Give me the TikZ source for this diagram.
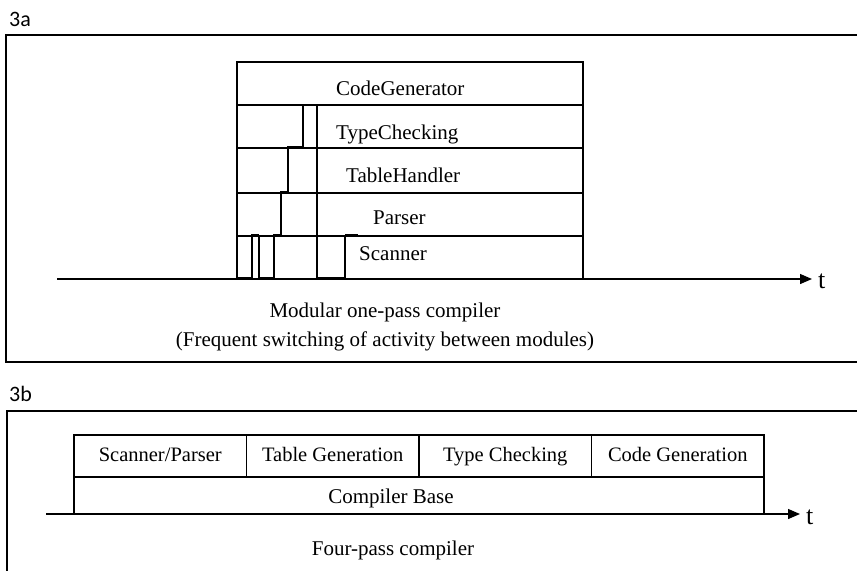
\documentclass[tikz,border=0pt]{standalone}
\usepackage{fontspec}
\setmainfont{Liberation Serif}
\newfontfamily\figfont{Carlito}
\usetikzlibrary{arrows.meta}
\usetikzlibrary{positioning}

\begin{document}
\begin{tikzpicture}[x=1pt,y=-1pt,
    quadro/.style={line width=1.3pt},
    linha/.style={line width=1.2pt},
    traco/.style={line width=3pt},
    eixo/.style={line width=1.3pt,-{Triangle[length=12pt,width=10pt]}},
    rotulo/.style={font=\fontsize{21}{25}\selectfont, inner sep=0pt},
    tempo/.style={font=\fontsize{26}{30}\selectfont, inner sep=0pt, anchor=base west},
    figlbl/.style={font=\figfont\fontsize{22}{26}\selectfont, inner sep=0pt, anchor=base west},
    passo/.style={draw, line width=1.2pt, minimum width=172.5pt, minimum height=42pt,
      inner sep=0pt, outer sep=0pt, text height=14pt, text depth=4pt,
      font=\fontsize{20.5}{24}\selectfont}]

  \useasboundingbox (0,0) rectangle (857,571);

  % Figura 3a
  \node[figlbl] (f3a) at (9,26) {3a};
  \draw[quadro] (857,35) -- (6,35) -- (6,362) -- (857,362);

  % Eixo do tempo
  \coordinate (ini3a) at (57,279);
  \coordinate (fim3a) at (812,279);
  \draw[eixo] (ini3a) -- (fim3a);
  \node[tempo] (t3a) at (818,288) {t};

  % Modulos
  \draw[linha] (237,62) rectangle (583,279);
  \foreach \y in {148,193,236}
    \draw[linha] (237,\y) -- (583,\y);
  \draw[linha] (237,105) -- (583,105);
  \draw[line width=2.4pt] (275,105) -- (583,105);
  \draw[linha] (317,105) -- (317,279);

  \node[rotulo, anchor=base west] (cg) at (336,95) {CodeGenerator};
  \node[rotulo, anchor=base west] (tc) at (336,139) {TypeChecking};
  \node[rotulo, anchor=base west] (th) at (346,182) {TableHandler};
  \node[rotulo, anchor=base west] (pa) at (373,224) {Parser};
  \node[rotulo, anchor=base west] (sc) at (359,260) {Scanner};

  % Atividade entre modulos
  \draw[linha] (252,279) -- (252,236) (259,236) -- (259,279)
    (274,279) -- (274,236) (281,236) -- (281,193)
    (288,193) -- (288,148) (303,148) -- (303,105)
    (345,279) -- (345,236);
  \foreach \xa/\xb/\y in {238/252/278, 251/259/235, 259/274/278, 273/281/235,
      280/288/192, 287/303/147, 317/345/278, 345/358/235}
    \draw[traco] (\xa,\y) -- (\xb,\y);

  \node[rotulo, anchor=base] (leg1) at (385,317) {Modular one-pass compiler};
  \node[rotulo, anchor=base] (leg2) at (385,346) {(Frequent switching of activity between modules)};

  % Figura 3b
  \node[figlbl] (f3b) at (9,401) {3b};
  \draw[quadro] (857,411) -- (7,411) -- (7,571);

  % Passos
  \node[passo, anchor=north west] (sp) at (74,435) {Scanner/Parser};
  \node[passo, right=0pt of sp] (tg) {Table Generation};
  \node[passo, right=0pt of tg] (tck) {Type Checking};
  \node[passo, right=0pt of tck] (cgn) {Code Generation};

  % Base
  \draw[linha] (sp.south west) rectangle (cgn.south east |- 0,514);
  \draw[line width=2.4pt] (sp.south west) -- (cgn.south east);
  \node[rotulo, anchor=base] (cb) at (391,503) {Compiler Base};

  \coordinate (ini3b) at (46,514);
  \coordinate (fim3b) at (800,514);
  \draw[eixo] (ini3b) -- (fim3b);
  \node[tempo] (t3b) at (806,524) {t};

  \node[rotulo, anchor=base] (leg3) at (393,555) {Four-pass compiler};
\end{tikzpicture}
\end{document}
